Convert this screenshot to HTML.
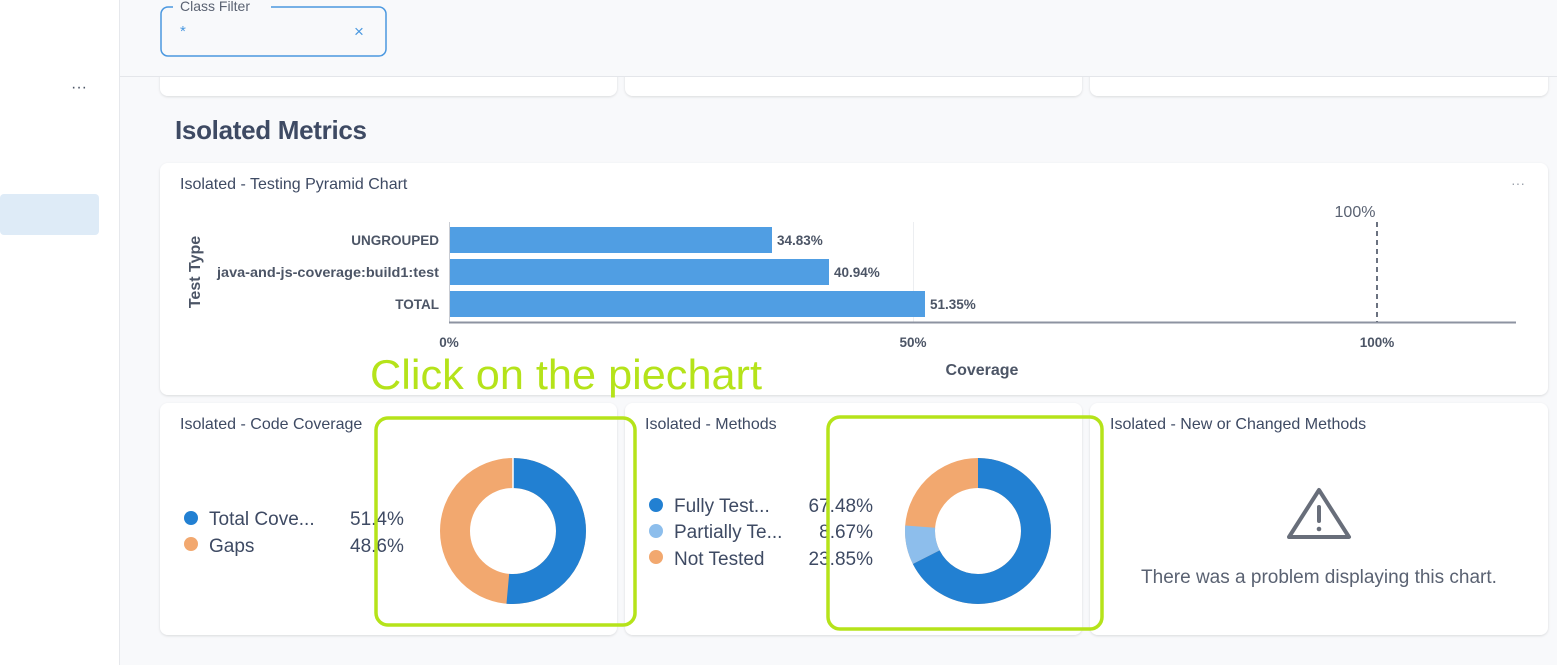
<!DOCTYPE html>
<html><head><meta charset="utf-8"><style>
html,body{margin:0;padding:0;width:1557px;height:665px;overflow:hidden;background:#f8f9fb;font-family:"Liberation Sans",sans-serif;}
</style></head><body>
<svg width="1557" height="665" xmlns="http://www.w3.org/2000/svg" font-family="Liberation Sans, sans-serif">
<defs><filter id="sh" x="-5%" y="-5%" width="110%" height="120%"><feDropShadow dx="0" dy="1" stdDeviation="1.2" flood-color="#000" flood-opacity="0.12"/></filter></defs>
<rect x="0" y="0" width="1557" height="665" fill="#f8f9fb"/>
<!-- sidebar -->
<rect x="0" y="0" width="119" height="665" fill="#ffffff"/>
<line x1="119.5" y1="0" x2="119.5" y2="665" stroke="#e6e8ec"/>
<text x="79" y="92" font-size="16" fill="#4c5566" text-anchor="middle">···</text>
<rect x="0" y="194" width="99" height="41" rx="4" fill="#deebf7"/>
<!-- top partial cards -->
<rect x="160" y="60" width="457" height="36" rx="8" fill="#fff" filter="url(#sh)"/>
<rect x="625" y="60" width="457" height="36" rx="8" fill="#fff" filter="url(#sh)"/>
<rect x="1090" y="60" width="458" height="36" rx="8" fill="#fff" filter="url(#sh)"/>
<rect x="120" y="0" width="1437" height="77" fill="#f8f9fb"/>
<line x1="120" y1="76.5" x2="1557" y2="76.5" stroke="#e4e6ea"/>
<!-- header -->
<rect x="161" y="7" width="225" height="49" rx="7" fill="none" stroke="#4a98e0" stroke-width="1.5"/>
<rect x="173" y="0" width="98" height="12" fill="#f8f9fb"/>
<text x="180" y="11" font-size="14" fill="#5a6272">Class Filter</text>
<text x="180" y="36" font-size="15" fill="#4a98e0">*</text>
<text x="359" y="37" font-size="17" fill="#4a98e0" text-anchor="middle">×</text>
<text x="175" y="139" font-size="26" fill="#3e4a63" font-weight="bold" letter-spacing="-0.3">Isolated Metrics</text>
<!-- pyramid card -->
<rect x="160" y="163" width="1388" height="232" rx="8" fill="#fff" filter="url(#sh)"/>
<text x="180" y="189" font-size="16" fill="#3e4a63">Isolated - Testing Pyramid Chart</text>
<text x="1518" y="188" font-size="14" fill="#9aa0aa" text-anchor="middle">···</text>
<line x1="913.5" y1="222" x2="913.5" y2="322" stroke="#eceef1"/>
<rect x="449" y="227" width="323" height="26" fill="#509ee3"/>
<rect x="449" y="259" width="380" height="26" fill="#509ee3"/>
<rect x="449" y="291" width="476" height="26" fill="#509ee3"/>
<line x1="449.5" y1="222" x2="449.5" y2="322" stroke="#c9ccd3"/>
<line x1="449" y1="322.5" x2="1516" y2="322.5" stroke="#8d93a1" stroke-width="2"/>
<line x1="1377" y1="222" x2="1377" y2="322" stroke="#6b7280" stroke-width="2" stroke-dasharray="5,4"/>
<text x="1355" y="217" font-size="16" fill="#5a6272" text-anchor="middle">100%</text>
<g font-size="13.5" font-weight="bold" fill="#4c5566">
<text x="439" y="245" text-anchor="end">UNGROUPED</text>
<text x="439" y="277" text-anchor="end" textLength="222" lengthAdjust="spacingAndGlyphs">java-and-js-coverage:build1:test</text>
<text x="439" y="309" text-anchor="end">TOTAL</text>
<text x="777" y="245">34.83%</text>
<text x="834" y="277">40.94%</text>
<text x="930" y="309">51.35%</text>
<text x="449" y="347" text-anchor="middle">0%</text>
<text x="913" y="347" text-anchor="middle">50%</text>
<text x="1377" y="347" text-anchor="middle">100%</text>
</g>
<text x="982" y="375" font-size="16" font-weight="bold" fill="#4c5566" text-anchor="middle">Coverage</text>
<text transform="translate(200,272) rotate(-90)" font-size="16" font-weight="bold" fill="#4c5566" text-anchor="middle">Test Type</text>
<!-- bottom cards -->
<rect x="160" y="403" width="457" height="232" rx="8" fill="#fff" filter="url(#sh)"/>
<rect x="625" y="403" width="457" height="232" rx="8" fill="#fff" filter="url(#sh)"/>
<rect x="1090" y="403" width="458" height="232" rx="8" fill="#fff" filter="url(#sh)"/>
<text x="180" y="429" font-size="16" fill="#3e4a63">Isolated - Code Coverage</text>
<text x="645" y="429" font-size="16" fill="#3e4a63">Isolated - Methods</text>
<text x="1110" y="429" font-size="16" fill="#3e4a63">Isolated - New or Changed Methods</text>
<!-- legend 1 -->
<circle cx="191" cy="518" r="7" fill="#2280d2"/>
<circle cx="191" cy="544" r="7" fill="#f2a86f"/>
<g font-size="19" fill="#3e4a63">
<text x="209" y="525">Total Cove...</text>
<text x="209" y="552">Gaps</text>
<text x="350" y="525">51.4%</text>
<text x="350" y="552">48.6%</text>
</g>
<!-- donut 1 -->
<g transform="translate(513,531) rotate(-90)">
<circle r="58" fill="none" stroke="#f2a86f" stroke-width="30"/>
<circle r="58" fill="none" stroke="#2280d2" stroke-width="30" stroke-dasharray="187.31 400"/>
</g>
<line x1="513" y1="458" x2="513" y2="488" stroke="#fff" stroke-width="1.5"/>
<!-- legend 2 -->
<circle cx="656" cy="505" r="7" fill="#2280d2"/>
<circle cx="656" cy="531" r="7" fill="#8dbeec"/>
<circle cx="656" cy="557" r="7" fill="#f2a86f"/>
<g font-size="19" fill="#3e4a63">
<text x="674" y="512">Fully Test...</text>
<text x="674" y="538">Partially Te...</text>
<text x="674" y="565">Not Tested</text>
<text x="873" y="512" text-anchor="end">67.48%</text>
<text x="873" y="538" text-anchor="end">8.67%</text>
<text x="873" y="565" text-anchor="end">23.85%</text>
</g>
<!-- donut 2 -->
<g transform="translate(978,531) rotate(-90)">
<circle r="58" fill="none" stroke="#f2a86f" stroke-width="30"/>
<circle r="58" fill="none" stroke="#8dbeec" stroke-width="30" stroke-dasharray="0 245.91 31.6 400"/>
<circle r="58" fill="none" stroke="#2280d2" stroke-width="30" stroke-dasharray="245.91 400"/>
</g>
<!-- warning -->
<path d="M1319 490 L1349 537 L1289 537 Z" fill="none" stroke="#686e7a" stroke-width="4" stroke-linejoin="round"/>
<line x1="1319" y1="507" x2="1319" y2="521" stroke="#686e7a" stroke-width="4" stroke-linecap="round"/>
<circle cx="1319" cy="529" r="2.3" fill="#686e7a"/>
<text x="1319" y="583" font-size="19" fill="#5a6272" text-anchor="middle">There was a problem displaying this chart.</text>
<!-- annotation -->
<text x="370" y="389" font-size="42" fill="#b5e31a" textLength="392" lengthAdjust="spacingAndGlyphs">Click on the piechart</text>
<rect x="376" y="418" width="259" height="207" rx="12" fill="none" stroke="#b5e31a" stroke-width="3.5"/>
<rect x="828" y="417" width="274" height="212" rx="12" fill="none" stroke="#b5e31a" stroke-width="3.5"/>
</svg>
</body></html>
